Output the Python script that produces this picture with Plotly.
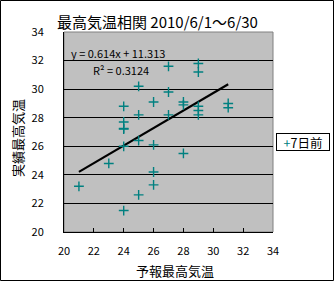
import numpy as np
import plotly.graph_objects as go

# Data
forecast_max = [21, 23, 24, 24, 24, 24, 24, 24, 25, 25, 25, 25, 26, 26, 26, 26,
                27, 27, 27, 28, 28, 28, 29, 29, 29, 29, 29, 31, 31]
observed_max = [23.2, 24.8, 28.8, 27.7, 27.2, 27.25, 26.0, 21.5, 30.2, 28.2, 26.4, 22.6,
                29.1, 26.1, 24.2, 23.3, 31.6, 29.8, 28.2, 29.1, 28.9, 25.5,
                31.8, 31.2, 28.8, 28.5, 28.2, 29.0, 28.7]
slope = 0.614
intercept = 11.313
r2 = 0.3124
series_name = "7日前"
title_text = "最高気温相関 2010/6/1～6/30"
x_title = "予報最高気温"
y_title = "実績最高気温"
tick_vals = [20, 22, 24, 26, 28, 30, 32, 34]

FONT = "Noto Sans CJK JP"
TEAL = "#008080"

L, R, T, B = 64, 61, 32, 49
W, H = 334, 281
pw, ph = W - L - R, H - T - B

def px(xp):
    return (xp - L) / pw

def py(yp):
    return (H - B - yp) / ph

fig = go.Figure()

tx = np.array([min(forecast_max), max(forecast_max)], dtype=float)
fig.add_trace(go.Scatter(
    x=tx, y=slope * tx + intercept, mode="lines",
    line=dict(color="black", width=2.2), showlegend=False, hoverinfo="skip"))

fig.add_trace(go.Scatter(
    x=forecast_max, y=observed_max, mode="markers", name=series_name,
    marker=dict(symbol="cross-thin", size=7, color=TEAL,
                line=dict(color=TEAL, width=1.4)),
    showlegend=False))

axis_common = dict(
    range=[20, 34], tickvals=tick_vals, ticks="inside", ticklen=4,
    tickcolor="black", showline=True, linecolor="black", linewidth=1,
    zeroline=False, tickfont=dict(family=FONT, size=11, color="black"),
)

fig.update_xaxes(**axis_common, showgrid=False, ticklabelstandoff=9)
fig.update_yaxes(**axis_common, showgrid=True, gridcolor="black", gridwidth=1,
                 ticklabelstandoff=17)

shapes = [
    dict(type="rect", xref="paper", yref="paper", x0=0, y0=0, x1=1, y1=1,
         line=dict(color="#808080", width=1), layer="below"),
    dict(type="rect", xref="paper", yref="paper",
         x0=px(0.5), x1=px(W - 0.5), y0=py(H - 0.5), y1=py(0.5),
         line=dict(color="black", width=1)),
]

def ann(text, x, y, size, xanchor="center", **kw):
    return dict(text=text, xref="paper", yref="paper", x=px(x), y=py(y),
                xanchor=xanchor, yanchor="middle", showarrow=False,
                font=dict(family=FONT, size=size, color="black"), **kw)

annotations = [
    ann(title_text, 157, 21, 15),
    ann(y_title, 17, 138, 13, textangle=-90),
    ann(x_title, 175, 270, 13),
    ann(f"y = {slope}x + {intercept}", 69, 53, 11, xanchor="left"),
    ann(f"R² = {r2}", 91, 70, 11, xanchor="left"),
    ann(f"<span style='color:{TEAL}'>+</span>{series_name}", 302.5, 142, 12.5,
        width=50, height=14, bgcolor="white", bordercolor="black",
        borderwidth=1, borderpad=1),
]

fig.update_layout(
    width=W, height=H,
    margin=dict(l=L, r=R, t=T, b=B),
    paper_bgcolor="white", plot_bgcolor="#C0C0C0",
    shapes=shapes, annotations=annotations,
    showlegend=False,
)

fig.write_html("out.html")
